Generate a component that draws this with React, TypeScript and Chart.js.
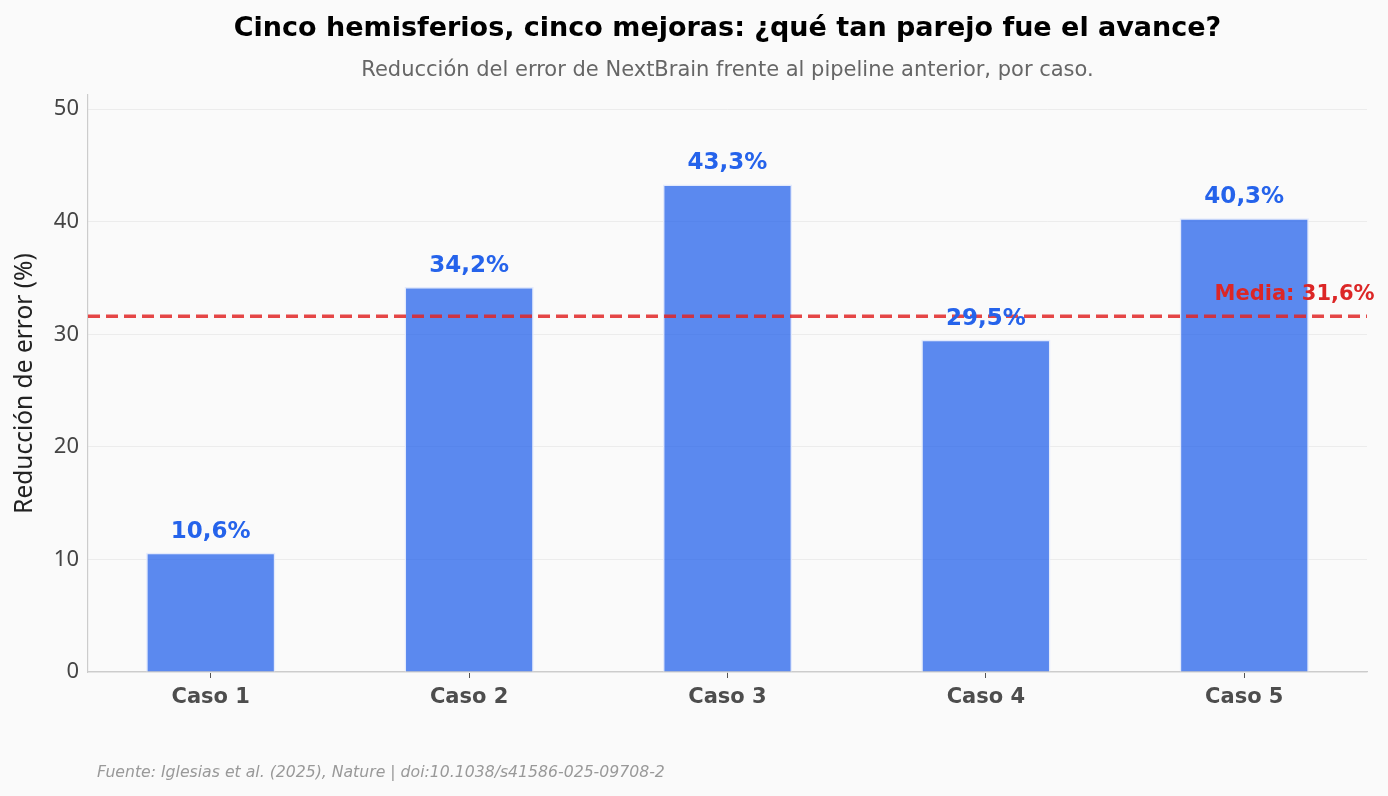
import React, { useEffect, useRef } from "react";
import { Chart, registerables } from "chart.js";

Chart.register(...registerables);

const categories = ["Caso 1", "Caso 2", "Caso 3", "Caso 4", "Caso 5"];
const reductions = [10.6, 34.2, 43.3, 29.5, 40.3];
const yTicks = [0, 10, 20, 30, 40, 50];
const meanValue = Math.round((reductions.reduce((a, b) => a + b, 0) / reductions.length) * 10) / 10;

const TITLE = "Cinco hemisferios, cinco mejoras: ¿qué tan parejo fue el avance?";
const SUBTITLE = "Reducción del error de NextBrain frente al pipeline anterior, por caso.";
const Y_TITLE = "Reducción de error (%)";
const FOOTER = "Fuente: Iglesias et al. (2025), Nature | doi:10.1038/s41586-025-09708-2";

const FONT = "'DejaVu Sans', 'Noto Sans', sans-serif";
const FONT2 = "'Noto Sans', 'Open Sans', sans-serif";
const fmt = (v: number) => v.toFixed(1).replace(".", ",") + "%";

export default function App() {
  const ref = useRef<HTMLCanvasElement | null>(null);

  useEffect(() => {
    document.body.style.margin = "0";
    document.body.style.background = "#fafafa";
    const canvas = ref.current;
    if (!canvas) return;

    const decor = {
      id: "decor",
      beforeDraw(chart: any) {
        const ctx = chart.ctx;
        ctx.save();
        ctx.fillStyle = "#fafafa";
        ctx.fillRect(0, 0, chart.width, chart.height);
        ctx.restore();
      },
      afterDatasetsDraw(chart: any) {
        const ctx = chart.ctx;
        const { left, right } = chart.chartArea;
        const xs = chart.scales.x;
        const ys = chart.scales.y;
        ctx.save();
        const my = ys.getPixelForValue(meanValue);
        ctx.strokeStyle = "rgba(225,38,38,0.85)";
        ctx.lineWidth = 3.6;
        ctx.setLineDash([12, 6]);
        ctx.beginPath();
        ctx.moveTo(left, my);
        ctx.lineTo(right, my);
        ctx.stroke();
        ctx.setLineDash([]);
        ctx.fillStyle = "#2563eb";
        ctx.font = `bold 23px ${FONT}`;
        ctx.textAlign = "center";
        ctx.textBaseline = "middle";
        reductions.forEach((v, i) => {
          const px = xs.getPixelForValue(i);
          const py = ys.getPixelForValue(v);
          ctx.fillText(fmt(v), px, py - 21);
        });
        ctx.fillStyle = "#dc2626";
        ctx.font = `bold 21px ${FONT}`;
        ctx.textAlign = "left";
        ctx.fillText("Media: " + fmt(meanValue), xs.getPixelForValue(3.885), my - 22);
        ctx.restore();
      },
      afterDraw(chart: any) {
        const ctx = chart.ctx;
        const { left, right, top, bottom } = chart.chartArea;
        const cx = (left + right) / 2;
        ctx.save();
        ctx.textAlign = "center";
        ctx.textBaseline = "middle";
        ctx.fillStyle = "#000";
        ctx.font = `bold 27px ${FONT}`;
        ctx.fillText(TITLE, cx, 29);
        ctx.fillStyle = "#666";
        ctx.font = `21px ${FONT}`;
        ctx.fillText(SUBTITLE, cx, 71);
        ctx.save();
        ctx.translate(25, (top + bottom) / 2);
        ctx.rotate(-Math.PI / 2);
        ctx.fillStyle = "#222";
        ctx.font = `24.5px ${FONT2}`;
        ctx.fillText(Y_TITLE, 0, 0);
        ctx.restore();
        ctx.textAlign = "left";
        ctx.fillStyle = "#999";
        ctx.font = `italic 15.7px ${FONT}`;
        ctx.fillText(FOOTER, 97, 773);
        ctx.restore();
      },
    };

    const chart = new Chart(canvas, {
      type: "bar",
      data: {
        datasets: [
          {
            data: reductions.map((v, i) => ({ x: i, y: v })),
            backgroundColor: "rgba(37,99,235,0.75)",
            borderColor: "rgba(225,233,252,0.95)",
            borderWidth: 1.5,
            barPercentage: 0.5,
            categoryPercentage: 1,
          },
        ],
      },
      options: {
        animation: false,
        responsive: false,
        devicePixelRatio: 1,
        layout: { padding: { top: 95, right: 21, left: 1, bottom: 0 } },
        plugins: {
          legend: { display: false },
          tooltip: { enabled: false },
        },
        scales: {
          x: {
            type: "linear",
            offset: false,
            min: -0.475,
            max: 4.475,
            afterBuildTicks: (s: any) => {
              s.ticks = categories.map((_, i) => ({ value: i }));
            },
            afterFit: (s: any) => {
              s.height = 124;
            },
            ticks: {
              callback: (v: any) => categories[Math.round(Number(v))] ?? "",
              color: "#4d4d4d",
              font: { family: FONT, size: 21, weight: "bold" },
              padding: 7,
              maxRotation: 0,
              autoSkip: false,
            },
            grid: {
              display: true,
              offset: false,
              drawOnChartArea: false,
              drawTicks: true,
              tickLength: 6,
              tickColor: "#555",
              tickWidth: 1,
            },
            border: { display: true, color: "#cccccc", width: 1.2 },
          },
          y: {
            min: 0,
            max: 51.25,
            afterBuildTicks: (s: any) => {
              s.ticks = yTicks.map((v) => ({ value: v }));
            },
            afterFit: (s: any) => {
              s.width = 87;
            },
            ticks: {
              color: "#444",
              font: { family: FONT2, size: 22 },
              padding: 9,
            },
            grid: {
              color: "#ececec",
              lineWidth: 1,
              drawTicks: false,
            },
            border: { display: true, color: "#cccccc", width: 1.2 },
          },
        },
      },
      plugins: [decor],
    } as any);

    return () => chart.destroy();
  }, []);

  return (
    <div style={{ position: "fixed", left: 0, top: 0, width: 1388, height: 796 }}>
      <canvas ref={ref} width={1388} height={796} style={{ width: 1388, height: 796, display: "block" }} />
    </div>
  );
}
